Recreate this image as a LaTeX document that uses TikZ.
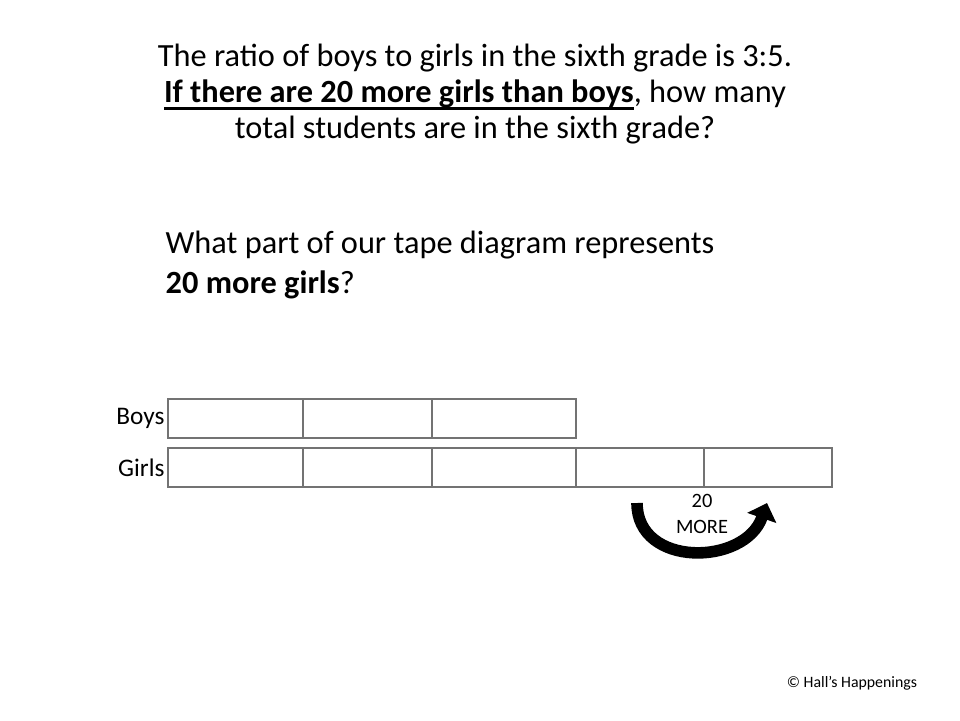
\documentclass[tikz,border=0pt]{standalone}
\usepackage{fontspec}
\setmainfont{Carlito}
\usetikzlibrary{positioning, arrows.meta}

\newcommand{\undertext}[1]{%
    \setbox0\hbox{#1}\rlap{\rule[-2.1pt]{\wd0}{0.8pt}}\box0}

\begin{document}
\begin{tikzpicture}[
    x = 0.01cm,
    y = -0.01cm,
    tape/.style = {
        draw = black!55,
        line width = 0.6pt,
        inner sep = 0pt,
        outer sep = 0pt,
        minimum height = 0.39cm,
        },
    rowlabel/.style = {
        font = \fontsize{7.2pt}{8pt}\selectfont,
        anchor = east,
        inner sep = 0pt,
        },
    ]

    \useasboundingbox (0,0) rectangle (960,720);

    % question text
    \node (title) at (475,94) [align=center, font=\fontsize{9.2pt}{10.2pt}\selectfont]
        {The ratio of boys to girls in the sixth grade is 3:5.\\
         \undertext{\textbf{If there are 20 more girls than boys}}, how many\\
         total students are in the sixth grade?};
    \node (ask) at (165,265) [anchor=west, align=left, inner sep=0pt,
        font=\fontsize{9.2pt}{11.4pt}\selectfont]
        {What part of our tape diagram represents\\
         \textbf{20 more girls}?};

    % boys tape
    \node[tape, minimum width=1.35cm, anchor=north west] (b1) at (168,399) {};
    \node[tape, minimum width=1.29cm] (b2) [right=0pt of b1] {};
    \node[tape, minimum width=1.44cm] (b3) [right=0pt of b2] {};

    % girls tape
    \node[tape, minimum width=1.35cm, anchor=north west] (g1) at (168,448) {};
    \node[tape, minimum width=1.29cm] (g2) [right=0pt of g1] {};
    \node[tape, minimum width=1.44cm] (g3) [right=0pt of g2] {};
    \node[tape, minimum width=1.28cm] (g4) [right=0pt of g3] {};
    \node[tape, minimum width=1.28cm] (g5) [right=0pt of g4] {};

    \node[rowlabel] (boys) [left=0.8pt of b1] {Boys};
    \node[rowlabel] (girls) [left=0.8pt of g1] {Girls};

    % 20 more arrow
    \coordinate (from) at (637,503);
    \coordinate (to) at (767,503);
    \draw[line width=3.3pt, -{Triangle[length=4.5pt, width=8.5pt]}]
        (from) .. controls (637,568) and (745,566) .. (to);
    \node (more) at (702,514) [align=center, font=\fontsize{5.8pt}{7.4pt}\selectfont]
        {20\\MORE};

    \node (copy) at (852,683) [font=\fontsize{4.5pt}{5pt}\selectfont]
        {© Hall's Happenings};
  \end{tikzpicture}
\end{document}
